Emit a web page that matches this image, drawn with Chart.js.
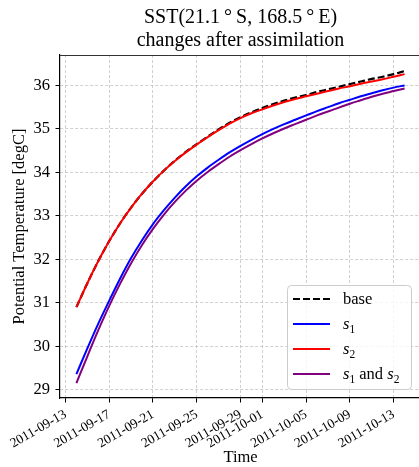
<!DOCTYPE html>
<html>
<head>
<meta charset="utf-8">
<script src="https://cdn.jsdelivr.net/npm/chart.js@4/dist/chart.umd.min.js"></script>
<style>
html,body{margin:0;padding:0;background:#fff;overflow:hidden}
#wrap{width:424px;height:467px;position:relative}
</style>
</head>
<body>
<div id="wrap"><canvas id="c"></canvas></div>
<script>
// daily values (degC)
const dates = [
  "2011-09-14","2011-09-15","2011-09-16","2011-09-17","2011-09-18","2011-09-19","2011-09-20","2011-09-21",
  "2011-09-22","2011-09-23","2011-09-24","2011-09-25","2011-09-26","2011-09-27","2011-09-28","2011-09-29",
  "2011-09-30","2011-10-01","2011-10-02","2011-10-03","2011-10-04","2011-10-05","2011-10-06","2011-10-07",
  "2011-10-08","2011-10-09","2011-10-10","2011-10-11","2011-10-12","2011-10-13","2011-10-14"
];
const base = [30.90,31.45,31.96,32.42,32.83,33.19,33.51,33.79,34.04,34.27,34.47,34.65,34.82,34.99,35.14,35.27,
  35.38,35.48,35.57,35.65,35.72,35.78,35.85,35.91,35.97,36.03,36.09,36.15,36.20,36.26,36.33];
const s1 = [29.36,29.95,30.52,31.05,31.56,32.03,32.44,32.81,33.13,33.42,33.68,33.91,34.11,34.29,34.46,34.61,
  34.75,34.88,35.00,35.11,35.21,35.31,35.41,35.50,35.59,35.67,35.75,35.82,35.89,35.95,36.00];
const s2 = [30.90,31.45,31.96,32.42,32.83,33.19,33.51,33.79,34.04,34.26,34.46,34.64,34.81,34.97,35.12,35.25,
  35.36,35.45,35.54,35.62,35.69,35.75,35.81,35.87,35.93,35.98,36.04,36.09,36.14,36.20,36.26];
const s12 = [29.15,29.77,30.37,30.93,31.44,31.91,32.33,32.70,33.03,33.32,33.58,33.81,34.01,34.19,34.36,34.51,
  34.65,34.78,34.90,35.01,35.11,35.21,35.31,35.40,35.49,35.58,35.66,35.74,35.81,35.87,35.93];

const tickDates = ["2011-09-13","2011-09-17","2011-09-21","2011-09-25","2011-09-29","2011-10-01","2011-10-05","2011-10-09","2011-10-13"];
const yTicks = [29,30,31,32,33,34,35,36];

const T0 = Date.parse("2011-09-13");
const dayOf = d => (Date.parse(d) - T0) / 864e5;
const pts = arr => arr.map((v,i)=>({x: dayOf(dates[i]), y: v}));
const SERIF = "'Liberation Serif','Times New Roman',serif";

// legend with italic s and subscripts, lower right
const legendBox = {
  id: "legendBox",
  afterDraw(chart){
    const {ctx, chartArea:a} = chart;
    const w = 124, h = 104;
    const x0 = a.right - 10 - w, y0 = a.bottom - 9 - h;
    ctx.save();
    // top spine
    ctx.strokeStyle = "#333"; ctx.lineWidth = 1;
    ctx.beginPath(); ctx.moveTo(a.left, a.top + 0.5); ctx.lineTo(a.right, a.top + 0.5); ctx.stroke();

    ctx.fillStyle = "rgba(255,255,255,0.8)";
    ctx.strokeStyle = "#cccccc";
    ctx.beginPath(); ctx.roundRect(x0 + 0.5, y0 + 0.5, w, h, 4); ctx.fill(); ctx.stroke();
    ctx.textBaseline = "alphabetic";
    chart.data.datasets.forEach((ds,i)=>{
      const yc = y0 + 14 + i*25;
      ctx.strokeStyle = ds.borderColor; ctx.lineWidth = ds.borderWidth;
      ctx.setLineDash(ds.borderDash || []);
      ctx.beginPath(); ctx.moveTo(x0 + 6, yc); ctx.lineTo(x0 + 43, yc); ctx.stroke();
      ctx.setLineDash([]);
      ctx.fillStyle = "#000";
      let x = x0 + 56;
      const yb = yc + 5;
      ds.label.split(/(s_\d)/).filter(Boolean).forEach(tok=>{
        if(/^s_\d$/.test(tok)){
          ctx.font = "italic 16.5px " + SERIF;
          ctx.fillText("s", x, yb); x += ctx.measureText("s").width;
          ctx.font = "11.5px " + SERIF;
          ctx.fillText(tok[2], x, yb + 3.5); x += ctx.measureText(tok[2]).width;
        } else {
          ctx.font = "16.5px " + SERIF;
          ctx.fillText(tok, x, yb); x += ctx.measureText(tok).width;
        }
      });
    });
    ctx.restore();
  }
};

new Chart(document.getElementById("c"), {
  type: "line",
  data: {
    datasets: [
      { label: "base", data: pts(base), borderColor: "#000000", borderWidth: 2.2, borderDash: [7,3], order: 4 },
      { label: "s_1", data: pts(s1), borderColor: "#0000ff", borderWidth: 2, order: 3 },
      { label: "s_2", data: pts(s2), borderColor: "#ff0000", borderWidth: 2, order: 2 },
      { label: "s_1 and s_2", data: pts(s12), borderColor: "#800080", borderWidth: 2, order: 1 }
    ]
  },
  options: {
    responsive: true,
    maintainAspectRatio: false,
    animation: false,
    layout: { padding: { left: 0, right: 3, top: 0, bottom: 0 } },
    elements: { point: { radius: 0 }, line: { cubicInterpolationMode: "monotone", fill: false } },
    plugins: {
      legend: { display: false },
      tooltip: { enabled: false },
      title: {
        display: true,
        fullSize: false,
        text: ["SST(21.1\u2009\u00b0\u2009S, 168.5\u2009\u00b0\u2009E)", "changes after assimilation"],
        color: "#000",
        font: { family: SERIF, size: 20, weight: "normal", lineHeight: 1.17 },
        padding: { top: 6, bottom: 2.2 }
      }
    },
    scales: {
      x: {
        type: "linear",
        min: -0.5, max: 32.5,
        afterBuildTicks: s => { s.ticks = tickDates.map(d=>({value: dayOf(d)})); },
        afterFit: s => { s.height = 69; },
        ticks: {
          autoSkip: false, minRotation: 30, maxRotation: 30, padding: 4,
          color: "#000", font: { family: SERIF, size: 13.5 },
          callback: v => tickDates.find(d => dayOf(d) === v) || ""
        },
        grid: { color: "rgba(176,176,176,0.75)", lineWidth: 0.8, tickLength: 4.5, tickColor: "#000", tickWidth: 1, tickBorderDash: [] },
        border: { color: "#000", width: 1.2, dash: [3,2] },
        title: { display: true, text: "Time", color: "#000", font: { family: SERIF, size: 16.5 }, padding: { top: 0, bottom: -1 } }
      },
      y: {
        min: 28.81, max: 36.70,
        afterBuildTicks: s => { s.ticks = yTicks.map(v=>({value: v})); },
        afterFit: s => { s.width = 60; },
        ticks: { padding: 5.5, color: "#000", font: { family: SERIF, size: 16.5 } },
        grid: { color: "rgba(176,176,176,0.75)", lineWidth: 0.8, tickLength: 4.5, tickColor: "#000", tickWidth: 1, tickBorderDash: [] },
        border: { color: "#000", width: 1.2, dash: [3,2] },
        title: { display: true, text: "Potential Temperature [degC]", color: "#000", font: { family: SERIF, size: 16.5 }, padding: { top: 10, bottom: 0 } }
      }
    }
  },
  plugins: [legendBox]
});
</script>
</body>
</html>
